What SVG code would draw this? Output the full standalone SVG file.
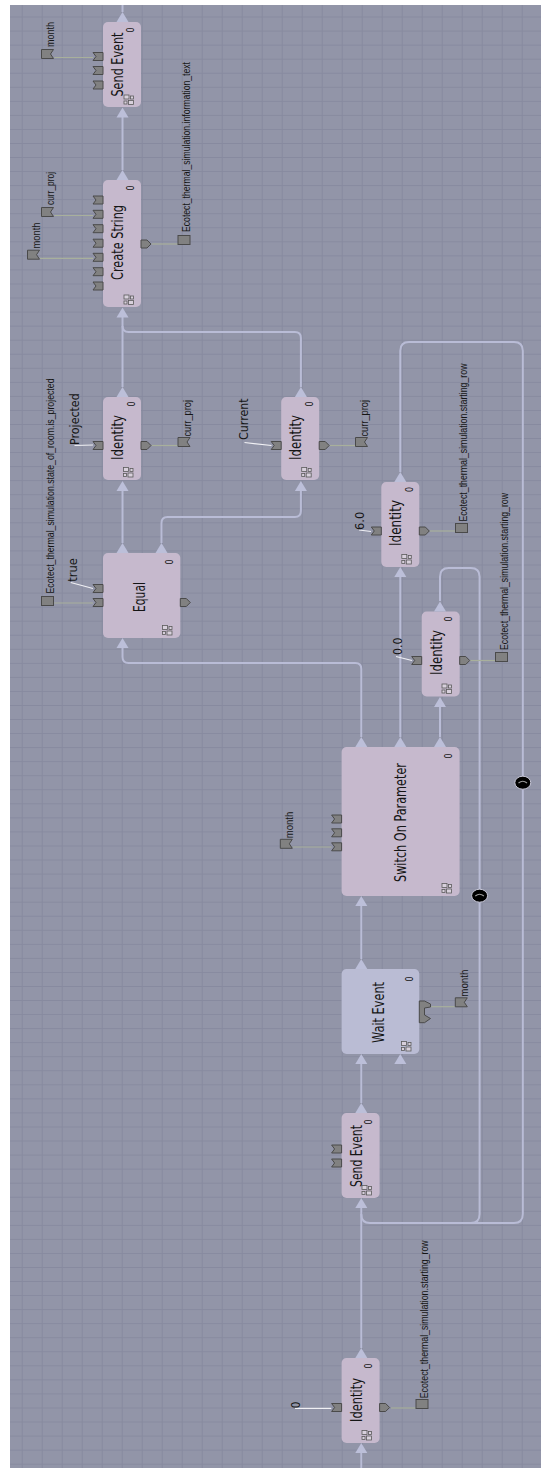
<svg xmlns="http://www.w3.org/2000/svg" xmlns:xlink="http://www.w3.org/1999/xlink" width="541" height="1468" viewBox="0 0 541 1468">
<style>
.node{fill:#c6b9cd}
.wait{fill:#babcd4}
.conn{fill:none;stroke:#b9bcd6;stroke-width:2}
.tri{fill:#bcbfd9}
.pin{fill:#818181;stroke:#4a4a4a;stroke-width:1}
.vline{stroke:#a8b09c;stroke-width:1.2}
.cline{stroke:#f0f0f4;stroke-width:1.2}
.title{font-family:"DejaVu Sans",sans-serif;font-size:15px;fill:#151515}
.zero{font-family:"DejaVu Sans",sans-serif;font-size:10px;fill:#151515}
.var{font-family:"Liberation Sans",sans-serif;font-size:11px;fill:#151515}
.const{font-family:"DejaVu Sans",sans-serif;font-size:13px;fill:#151515}
.ico{fill:#d8d0dc;stroke:#5a5a5a;stroke-width:0.8}
</style>
<defs>
<pattern id="grid" patternUnits="userSpaceOnUse" x="1.7" y="2.5" width="20" height="14.05">
<path d="M0.5,0 V14.05 M0,0.5 H20" stroke="#878a9f" stroke-width="1" fill="none"/>
</pattern>
<path id="tri" class="tri" d="M0,0 L6,10 L-6,10 Z"/>
<path id="pinIn" class="pin" d="M-10,-4 H0 V4 H-10 L-7,0 Z"/>
<path id="pinOut" class="pin" d="M0,-4 H6 L10,0 L6,4 H0 Z"/>
<path id="varN" class="pin" d="M0,-4.5 H12 L9,0 L12,4.5 H0 Z"/>
<rect id="varS" class="pin" x="0" y="-4.5" width="12" height="9"/>
<g id="icon">
<rect class="ico" x="0" y="0" width="5" height="4"/>
<rect class="ico" x="6.5" y="1" width="3" height="3"/>
<rect class="ico" x="0" y="6" width="3" height="3"/>
<rect class="ico" x="4.5" y="5.5" width="5" height="4"/>
</g>
</defs>
<rect x="0" y="0" width="541" height="1468" fill="#ffffff"/>
<rect x="10" y="5" width="531" height="1463" fill="#9295a8"/>
<rect x="10" y="5" width="531" height="1463" fill="url(#grid)"/>

<g id="connectors">
<path class="conn" d="M122.5,5 V12"/>
<path class="conn" d="M122.5,117 V170"/>
<path class="conn" d="M122.5,317 V387"/>
<path class="conn" d="M122.5,326 Q122.5,332 128.5,332 H294.9 Q300.9,332 300.9,338 V387"/>
<path class="conn" d="M122.5,491 V543"/>
<path class="conn" d="M300.9,491 V511 Q300.9,517 294.9,517 H167.5 Q161.5,517 161.5,523 V543"/>
<path class="conn" d="M122.5,648 V657 Q122.5,663 128.5,663 H355.3 Q361.3,663 361.3,669 V737"/>
<path class="conn" d="M400.3,577 V737"/>
<path class="conn" d="M440,707 V737"/>
<path class="conn" d="M361.3,906 V959"/>
<path class="conn" d="M361.3,1064 V1103"/>
<path class="conn" d="M361.3,1208 V1348"/>
<path class="conn" d="M361.3,1214 Q361.3,1223 370,1223 H514 Q522.8,1223 522.8,1214 V350.7 Q522.8,342 514,342 H409 Q400.3,342 400.3,350.7 V472"/>
<path class="conn" d="M470.8,1223 Q479.6,1223 479.6,1214 V576.7 Q479.6,568 470.8,568 H448.7 Q440,568 440,576.7 V601"/>
<path class="conn" d="M361.3,1453 V1468"/>
<g>
<ellipse cx="522.8" cy="782.7" rx="8" ry="6.5" fill="#000" stroke="#c8c8d8" stroke-width="1"/>
<path d="M518.5,783 Q522.8,779.5 527,783" fill="none" stroke="#9a9a9a" stroke-width="1.2"/>
<ellipse cx="479.6" cy="895.7" rx="8" ry="6.5" fill="#000" stroke="#c8c8d8" stroke-width="1"/>
<path d="M475.3,896 Q479.6,892.5 483.9,896" fill="none" stroke="#9a9a9a" stroke-width="1.2"/>
</g>
<!-- var/constant links -->
<line class="vline" x1="54.2" y1="57.5" x2="93" y2="57.5"/>
<line class="vline" x1="54.2" y1="215.5" x2="93" y2="215.5"/>
<line class="vline" x1="39.7" y1="258.3" x2="93" y2="258.3"/>
<line class="vline" x1="151.8" y1="244" x2="178" y2="244"/>
<line class="vline" x1="54.2" y1="603" x2="93" y2="603"/>
<line class="vline" x1="151.5" y1="445.5" x2="177.7" y2="445.5"/>
<line class="vline" x1="329.5" y1="445.5" x2="355.4" y2="445.5"/>
<line class="vline" x1="429.6" y1="531" x2="455.5" y2="531"/>
<line class="vline" x1="470" y1="660.5" x2="495.2" y2="660.5"/>
<line class="vline" x1="292.6" y1="847" x2="331.6" y2="847"/>
<line class="vline" x1="431.3" y1="1006.7" x2="454.8" y2="1006.7"/>
<line class="vline" x1="391" y1="1408" x2="415.8" y2="1408"/>
<line class="cline" x1="74.5" y1="445.5" x2="93" y2="445"/>
<line class="cline" x1="244.5" y1="442.5" x2="271.5" y2="445.5"/>
<line class="cline" x1="70.7" y1="582.5" x2="93" y2="588.5"/>
<line class="cline" x1="359" y1="530" x2="371" y2="531.5"/>
<line class="cline" x1="396" y1="656.5" x2="412" y2="660.5"/>
<line class="cline" x1="295" y1="1408.3" x2="331.3" y2="1408.3"/>
</g>

<g id="send_event_top">
<rect class="node" x="103" y="22" width="38" height="85" rx="5"/>
<use href="#tri" x="122.5" y="12"/>
<use href="#tri" x="122.5" y="107.5"/>
<text class="title" transform="translate(123,64.5) rotate(-90)" text-anchor="middle" textLength="64" lengthAdjust="spacingAndGlyphs">Send Event</text>
<text class="zero" transform="translate(134,30) rotate(-90)" text-anchor="middle" textLength="5" lengthAdjust="spacingAndGlyphs">0</text>
<use href="#icon" x="124" y="95"/>
<use href="#pinIn" x="103" y="56.5"/>
<use href="#pinIn" x="103" y="70.5"/>
<use href="#pinIn" x="103" y="85"/>
<use href="#varN" x="41.5" y="54"/>
<text class="var" transform="translate(54,47) rotate(-90)" textLength="25" lengthAdjust="spacingAndGlyphs">month</text>
</g>

<g id="create_string">
<rect class="node" x="103" y="180" width="38" height="127" rx="5"/>
<use href="#tri" x="122.5" y="170"/>
<use href="#tri" x="122.5" y="307.5"/>
<text class="title" transform="translate(123,242.5) rotate(-90)" text-anchor="middle" textLength="75" lengthAdjust="spacingAndGlyphs">Create String</text>
<text class="zero" transform="translate(134,188) rotate(-90)" text-anchor="middle" textLength="5" lengthAdjust="spacingAndGlyphs">0</text>
<use href="#icon" x="124" y="295"/>
<use href="#pinIn" x="103" y="200"/>
<use href="#pinIn" x="103" y="214.3"/>
<use href="#pinIn" x="103" y="228.7"/>
<use href="#pinIn" x="103" y="243.2"/>
<use href="#pinIn" x="103" y="257.3"/>
<use href="#pinIn" x="103" y="271.7"/>
<use href="#pinIn" x="103" y="286"/>
<use href="#pinOut" x="141" y="244"/>
<use href="#varN" x="41.5" y="212"/>
<text class="var" transform="translate(54,205) rotate(-90)" textLength="33" lengthAdjust="spacingAndGlyphs">curr_proj</text>
<use href="#varN" x="27.5" y="254.7"/>
<text class="var" transform="translate(39.5,248.5) rotate(-90)" textLength="26" lengthAdjust="spacingAndGlyphs">month</text>
<use href="#varS" x="178" y="240"/>
<text class="var" transform="translate(190,232) rotate(-90)" textLength="170" lengthAdjust="spacingAndGlyphs">Ecotect_thermal_simulation.information_text</text>
</g>

<g id="identity_projected">
<rect class="node" x="103" y="397" width="38" height="83" rx="5"/>
<use href="#tri" x="122.5" y="387"/>
<use href="#tri" x="122.5" y="481"/>
<text class="title" transform="translate(123,437.5) rotate(-90)" text-anchor="middle" textLength="45" lengthAdjust="spacingAndGlyphs">Identity</text>
<text class="zero" transform="translate(135,404) rotate(-90)" text-anchor="middle" textLength="5" lengthAdjust="spacingAndGlyphs">0</text>
<use href="#icon" x="123.5" y="467.5"/>
<use href="#pinIn" x="103" y="445.5"/>
<use href="#pinOut" x="141" y="445.5"/>
<text class="const" transform="translate(78.5,445) rotate(-90)" textLength="51.7" lengthAdjust="spacingAndGlyphs">Projected</text>
<use href="#varN" x="178" y="442"/>
<text class="var" transform="translate(190.5,436.5) rotate(-90)" textLength="36.5" lengthAdjust="spacingAndGlyphs">curr_proj</text>
</g>

<g id="identity_current">
<rect class="node" x="281.2" y="397" width="38" height="83" rx="5"/>
<use href="#tri" x="300.9" y="387"/>
<use href="#tri" x="300.9" y="481"/>
<text class="title" transform="translate(301.2,437.5) rotate(-90)" text-anchor="middle" textLength="45" lengthAdjust="spacingAndGlyphs">Identity</text>
<text class="zero" transform="translate(313,404) rotate(-90)" text-anchor="middle" textLength="5" lengthAdjust="spacingAndGlyphs">0</text>
<use href="#icon" x="301.7" y="467.5"/>
<use href="#pinIn" x="281.2" y="445.5"/>
<use href="#pinOut" x="319.2" y="445.5"/>
<text class="const" transform="translate(248,440) rotate(-90)" textLength="41.7" lengthAdjust="spacingAndGlyphs">Current</text>
<use href="#varN" x="355.5" y="442"/>
<text class="var" transform="translate(368,436.5) rotate(-90)" textLength="36.5" lengthAdjust="spacingAndGlyphs">curr_proj</text>
</g>

<g id="equal">
<rect class="node" x="103" y="553" width="77.3" height="85" rx="5"/>
<use href="#tri" x="122.5" y="543"/>
<use href="#tri" x="161.5" y="543"/>
<use href="#tri" x="122.5" y="638"/>
<text class="title" transform="translate(145,597) rotate(-90)" text-anchor="middle" textLength="30" lengthAdjust="spacingAndGlyphs">Equal</text>
<text class="zero" transform="translate(172.5,562) rotate(-90)" text-anchor="middle" textLength="5" lengthAdjust="spacingAndGlyphs">0</text>
<use href="#icon" x="162.5" y="625.5"/>
<use href="#pinIn" x="103" y="588.5"/>
<use href="#pinIn" x="103" y="602.5"/>
<use href="#pinOut" x="180.3" y="602.5"/>
<text class="const" transform="translate(76.5,581.7) rotate(-90)" textLength="23.4" lengthAdjust="spacingAndGlyphs">true</text>
<use href="#varS" x="41.5" y="601"/>
<text class="var" transform="translate(53.5,593.5) rotate(-90)" textLength="215" lengthAdjust="spacingAndGlyphs">Ecotect_thermal_simulation.state_of_room.is_projected</text>
</g>

<g id="identity_6">
<rect class="node" x="381.3" y="482" width="38" height="85" rx="5"/>
<use href="#tri" x="400.3" y="472"/>
<use href="#tri" x="400.3" y="567"/>
<text class="title" transform="translate(401.3,523) rotate(-90)" text-anchor="middle" textLength="46" lengthAdjust="spacingAndGlyphs">Identity</text>
<text class="zero" transform="translate(412.5,489.5) rotate(-90)" text-anchor="middle" textLength="5" lengthAdjust="spacingAndGlyphs">0</text>
<use href="#icon" x="401.8" y="554.5"/>
<use href="#pinIn" x="381.3" y="531"/>
<use href="#pinOut" x="419.3" y="531"/>
<text class="const" transform="translate(363.8,530) rotate(-90)" textLength="18.3" lengthAdjust="spacingAndGlyphs">6.0</text>
<use href="#varS" x="455.5" y="528"/>
<text class="var" transform="translate(466.5,521.5) rotate(-90)" textLength="158" lengthAdjust="spacingAndGlyphs">Ecotect_thermal_simulation.starting_row</text>
</g>

<g id="identity_0">
<rect class="node" x="421.7" y="611.5" width="38" height="85" rx="5"/>
<use href="#tri" x="440" y="601.5"/>
<use href="#tri" x="440" y="697"/>
<text class="title" transform="translate(441.7,652.5) rotate(-90)" text-anchor="middle" textLength="45" lengthAdjust="spacingAndGlyphs">Identity</text>
<text class="zero" transform="translate(451.5,619) rotate(-90)" text-anchor="middle" textLength="5" lengthAdjust="spacingAndGlyphs">0</text>
<use href="#icon" x="442" y="684"/>
<use href="#pinIn" x="421.7" y="660.5"/>
<use href="#pinOut" x="459.7" y="660.5"/>
<text class="const" transform="translate(402,655) rotate(-90)" textLength="17.7" lengthAdjust="spacingAndGlyphs">0.0</text>
<use href="#varS" x="495.5" y="657"/>
<text class="var" transform="translate(508,650) rotate(-90)" textLength="157" lengthAdjust="spacingAndGlyphs">Ecotect_thermal_simulation.starting_row</text>
</g>

<g id="switch_on_parameter">
<rect class="node" x="341.6" y="747" width="118" height="149" rx="5"/>
<use href="#tri" x="361.3" y="737"/>
<use href="#tri" x="400.3" y="737"/>
<use href="#tri" x="440" y="737"/>
<use href="#tri" x="361.3" y="896"/>
<text class="title" transform="translate(406,822.5) rotate(-90)" text-anchor="middle" textLength="119" lengthAdjust="spacingAndGlyphs">Switch On Parameter</text>
<text class="zero" transform="translate(451.5,756) rotate(-90)" text-anchor="middle" textLength="5" lengthAdjust="spacingAndGlyphs">0</text>
<use href="#icon" x="442" y="883.5"/>
<use href="#pinIn" x="341.6" y="819"/>
<use href="#pinIn" x="341.6" y="832.8"/>
<use href="#pinIn" x="341.6" y="846.8"/>
<use href="#varN" x="280.3" y="843.8"/>
<text class="var" transform="translate(292.5,838.3) rotate(-90)" textLength="26.6" lengthAdjust="spacingAndGlyphs">month</text>
</g>

<g id="wait_event">
<rect class="wait" x="341.6" y="969" width="77.7" height="85" rx="5"/>
<use href="#tri" x="361.3" y="959"/>
<use href="#tri" x="361.3" y="1054"/>
<use href="#tri" x="400.3" y="1054"/>
<text class="title" transform="translate(384,1012.5) rotate(-90)" text-anchor="middle" textLength="61" lengthAdjust="spacingAndGlyphs">Wait Event</text>
<text class="zero" transform="translate(412.5,979) rotate(-90)" text-anchor="middle" textLength="5" lengthAdjust="spacingAndGlyphs">0</text>
<use href="#icon" x="401.5" y="1041.5"/>
<path class="pin" d="M419.3,1001 H424.5 L430.5,1004 L430.5,1007 L424.5,1008 V1015 L430.5,1018.5 L424.5,1022.7 H419.3 Z"/>
<use href="#varN" x="455.3" y="1002.3"/>
<text class="var" transform="translate(467.5,996.7) rotate(-90)" textLength="27" lengthAdjust="spacingAndGlyphs">month</text>
</g>

<g id="send_event_bottom">
<rect class="node" x="341.6" y="1113" width="38" height="85" rx="5"/>
<use href="#tri" x="361.3" y="1103"/>
<use href="#tri" x="361.3" y="1198"/>
<text class="title" transform="translate(361.8,1156) rotate(-90)" text-anchor="middle" textLength="62" lengthAdjust="spacingAndGlyphs">Send Event</text>
<text class="zero" transform="translate(372,1122) rotate(-90)" text-anchor="middle" textLength="5" lengthAdjust="spacingAndGlyphs">0</text>
<use href="#icon" x="362" y="1185.5"/>
<use href="#pinIn" x="341.6" y="1149"/>
<use href="#pinIn" x="341.6" y="1163"/>
</g>

<g id="identity_bottom">
<rect class="node" x="341.6" y="1358" width="38" height="85" rx="5"/>
<use href="#tri" x="361.3" y="1348"/>
<use href="#tri" x="361.3" y="1443"/>
<text class="title" transform="translate(361.8,1400) rotate(-90)" text-anchor="middle" textLength="44" lengthAdjust="spacingAndGlyphs">Identity</text>
<text class="zero" transform="translate(372,1366) rotate(-90)" text-anchor="middle" textLength="5" lengthAdjust="spacingAndGlyphs">0</text>
<use href="#icon" x="362" y="1430.5"/>
<use href="#pinIn" x="341.6" y="1407.5"/>
<use href="#pinOut" x="379.6" y="1407.5"/>
<text class="const" transform="translate(299.5,1408.3) rotate(-90)" textLength="6.6" lengthAdjust="spacingAndGlyphs">0</text>
<use href="#varS" x="416" y="1404"/>
<text class="var" transform="translate(428,1398.3) rotate(-90)" textLength="158" lengthAdjust="spacingAndGlyphs">Ecotect_thermal_simulation.starting_row</text>
</g>
</svg>
